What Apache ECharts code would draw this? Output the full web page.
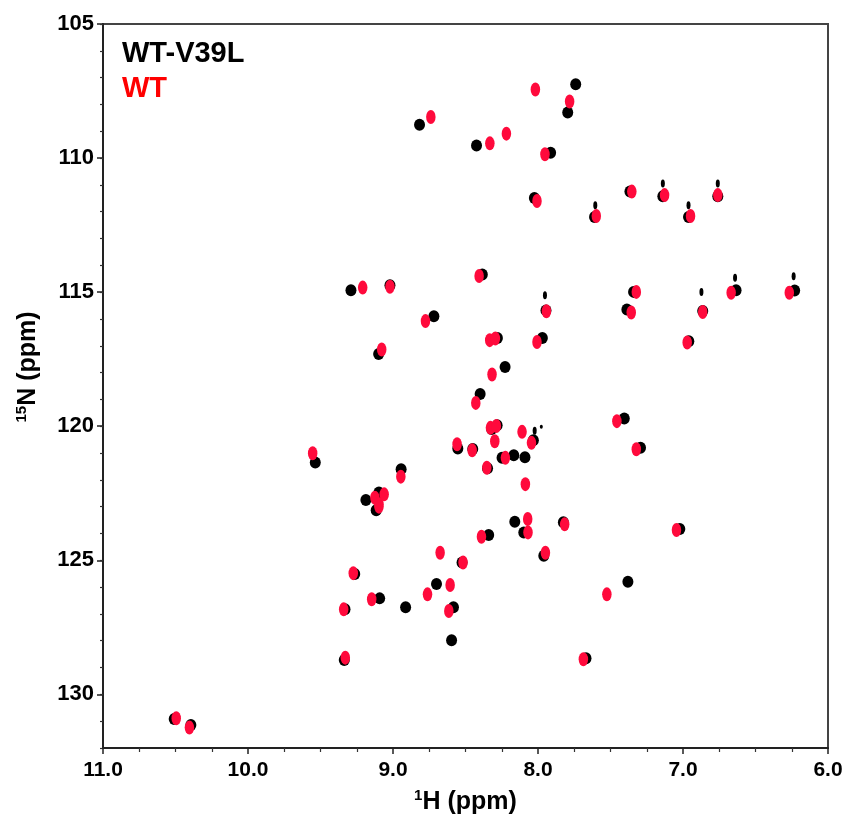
<!DOCTYPE html>
<html><head><meta charset="utf-8">
<script src="https://cdn.jsdelivr.net/npm/echarts@6/dist/echarts.min.js"></script>
<style>html,body{margin:0;padding:0;background:#fff}#c{width:849px;height:825px}</style>
</head><body><div id="c"></div><script>
// 1H (ppm), 15N (ppm) peak positions
const wtV39LPeaks = [
  [8.817,108.76],[7.740,107.25],[7.795,108.30],[8.424,109.53],[7.913,109.80],[8.025,111.49],
  [7.610,112.20],[7.366,111.25],[7.139,111.42],[6.962,112.20],[6.760,111.42],
  [9.290,114.93],[9.021,114.74],[8.384,114.34],[7.945,115.68],[8.718,115.90],[8.280,116.71],
  [7.970,116.71],[9.099,117.31],[8.227,117.79],[8.399,118.80],[8.320,120.10],[8.282,119.96],
  [8.553,120.83],[8.450,120.85],[8.032,120.52],[8.248,121.18],[8.167,121.08],[8.090,121.16],
  [8.348,121.57],[8.944,121.60],[9.187,122.75],[9.097,122.47],[9.536,121.35],
  [7.341,114.99],[7.387,115.65],[6.864,115.70],[6.634,114.93],[6.230,114.94],[6.960,116.83],
  [7.405,119.71],[7.293,120.80],[10.509,130.92],[10.394,131.14],[9.331,126.83],[9.336,128.72],
  [9.116,123.13],[8.160,123.56],[8.098,123.96],[7.825,123.58],[8.340,124.06],[8.524,125.08],
  [7.960,124.83],[9.264,125.51],[8.700,125.88],[9.092,126.42],[8.913,126.75],[8.583,126.75],
  [8.596,127.98],[7.669,128.65],[7.022,123.83],[7.380,125.80]
];
const wtV39LWeak = [
  [7.952,115.12],[7.605,111.76],[7.139,110.95],[6.962,111.76],[6.760,110.95],
  [6.873,114.99],[6.641,114.46],[6.237,114.41],[8.023,120.17]
];
const wtV39LTiny = [[7.977,120.02]];
const wtPeaks = [
  [8.739,108.47],[8.018,107.44],[7.782,107.89],[8.332,109.45],[8.218,109.09],[7.952,109.86],
  [8.007,111.60],[7.598,112.16],[7.353,111.25],[7.127,111.38],[6.948,112.16],[6.760,111.38],
  [9.554,121.01],[9.209,114.83],[9.021,114.80],[8.406,114.40],[7.942,115.71],[8.776,116.08],
  [8.333,116.79],[8.294,116.73],[8.007,116.86],[9.078,117.14],[8.317,118.07],[8.429,119.13],
  [8.328,120.06],[8.287,119.99],[8.298,120.56],[8.558,120.67],[8.454,120.90],[8.110,120.21],
  [8.045,120.62],[8.225,121.18],[8.353,121.55],[8.087,122.16],[8.946,121.88],[9.125,122.67],
  [9.061,122.54],[9.097,122.91],[7.322,114.99],[7.357,115.76],[6.864,115.74],[6.668,115.02],
  [6.267,115.02],[6.971,116.88],[7.456,119.81],[7.322,120.86],[10.495,130.89],[10.404,131.24],
  [9.340,126.83],[9.329,128.63],[9.097,123.00],[8.071,123.46],[8.069,123.96],[7.816,123.66],
  [8.390,124.12],[8.675,124.72],[8.517,125.08],[7.949,124.72],[9.274,125.48],[8.606,125.92],
  [9.147,126.45],[8.762,126.27],[8.615,126.89],[7.687,128.69],[7.045,123.87],[7.525,126.27]
];
const nTickLabels = [105,110,115,120,125,130];
const hRange = [6, 11];
const nRange = [105, 132];
const legendNames = ['WT-V39L','WT'];

const FONT = '"Liberation Sans", Arial, sans-serif';
const chart = echarts.init(document.getElementById('c'), null, {renderer:'canvas'});
chart.setOption({
  animation: false,
  backgroundColor: '#fff',
  grid: {left:103, right:21, top:24, bottom:77, show:true, borderColor:'#444', borderWidth:2},
  xAxis: {
    type:'value', min:hRange[0], max:hRange[1], interval:1, inverse:true,
    axisLine:{show:true, onZero:false, lineStyle:{color:'#222', width:2}},
    axisTick:{show:true, length:6, lineStyle:{color:'#222', width:1.5}},
    minorTick:{show:true, splitNumber:4, length:4, lineStyle:{color:'#333', width:1.2}},
    splitLine:{show:false},
    axisLabel:{margin:12, fontSize:21, fontWeight:'bold', color:'#000', fontFamily:FONT,
      formatter: v => v.toFixed(1)},
    name:'{sup|1}{b|H (ppm)}', nameLocation:'middle', nameGap:40,
    nameTextStyle:{rich:{
      b:{fontSize:25, fontWeight:'bold', color:'#000', fontFamily:FONT, lineHeight:28},
      sup:{fontSize:15, fontWeight:'bold', color:'#000', fontFamily:FONT, verticalAlign:'top', lineHeight:28}
    }}
  },
  yAxis: [{
    type:'value', min:nRange[0], max:nRange[1], interval:1, inverse:true, position:'left',
    axisLine:{show:true, onZero:false, lineStyle:{color:'#222', width:2}},
    axisTick:{show:true, length:6, customValues:nTickLabels, lineStyle:{color:'#222', width:1.5}},
    splitLine:{show:false},
    axisLabel:{margin:9, fontSize:22, fontWeight:'bold', color:'#000', fontFamily:FONT,
      customValues:nTickLabels}
  },{
    type:'value', min:nRange[0], max:nRange[1], interval:1, inverse:true, position:'left',
    axisLine:{show:false}, axisLabel:{show:false}, splitLine:{show:false},
    axisTick:{show:true, length:3, lineStyle:{color:'#333', width:1.2}}
  }],
  graphic: [
    {type:'text', x:122, y:54, style:{text:legendNames[0], font:'bold 29px ' + FONT, fill:'#000', verticalAlign:'middle'}},
    {type:'text', x:122, y:89, style:{text:legendNames[1], font:'bold 29px ' + FONT, fill:'#ff0000', verticalAlign:'middle'}},
    {type:'text', x:28, y:367, rotation:Math.PI/2,
      style:{text:'{sup|15}{b|N (ppm)}', align:'center', verticalAlign:'middle',
        rich:{
          b:{fontSize:25, fontWeight:'bold', fill:'#000', fontFamily:FONT, lineHeight:28},
          sup:{fontSize:15, fontWeight:'bold', fill:'#000', fontFamily:FONT, verticalAlign:'top', lineHeight:28}
        }}}
  ],
  series: [
    {name:legendNames[0]+' weak', type:'scatter', data:wtV39LWeak, symbol:'circle', symbolSize:[4,8],
      itemStyle:{color:'#000', opacity:1}, silent:true},
    {name:legendNames[0]+' tiny', type:'scatter', data:wtV39LTiny, symbol:'circle', symbolSize:[3,4],
      itemStyle:{color:'#000', opacity:1}, silent:true},
    {name:legendNames[0], type:'scatter', data:wtV39LPeaks, symbol:'circle', symbolSize:[11,12],
      itemStyle:{color:'#000', opacity:1}, silent:true},
    {name:legendNames[1], type:'scatter', data:wtPeaks, symbol:'circle', symbolSize:[9.5,14],
      itemStyle:{color:'#ff0a3c', opacity:1}, silent:true}
  ]
});
</script></body></html>
